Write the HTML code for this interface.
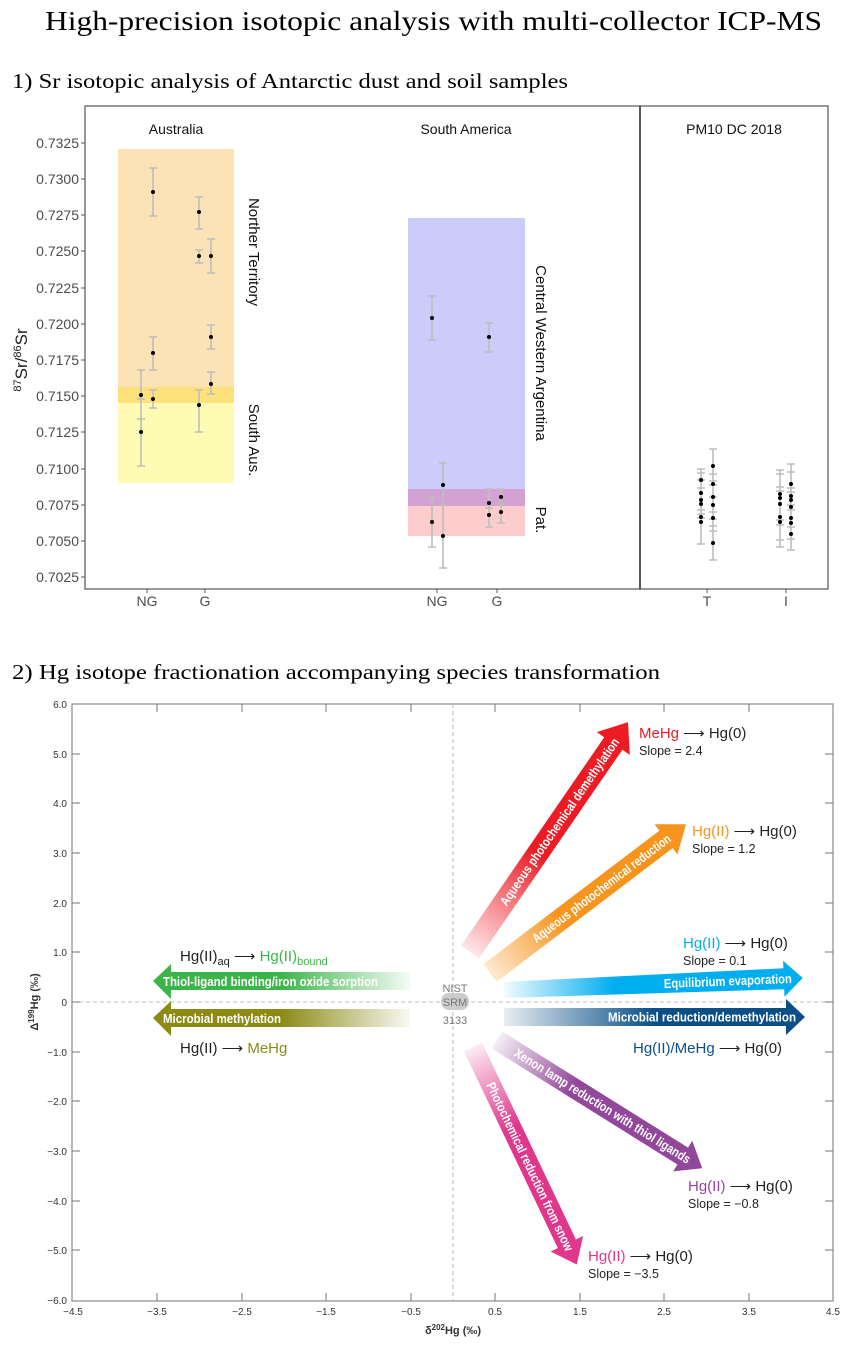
<!DOCTYPE html>
<html><head><meta charset="utf-8"><style>
html,body{margin:0;padding:0;background:#fff}
svg{display:block}
.ax{font-family:"Liberation Sans",sans-serif;font-size:14px;fill:#4d4d4d}
.eb{stroke:#bdbdbd;stroke-width:1.6;fill:none}
.ax2{font-family:"Liberation Sans",sans-serif;font-size:10px;fill:#333}
.lab{font-family:"Liberation Sans",sans-serif;font-size:15px;fill:#231f20}
.sl{font-family:"Liberation Sans",sans-serif;font-size:12.5px;fill:#231f20}
.at{font-family:"Liberation Sans Narrow","Liberation Sans",sans-serif;font-weight:bold;font-size:13px;fill:#fff}
</style></head><body>
<svg width="850" height="1345" viewBox="0 0 850 1345" xmlns="http://www.w3.org/2000/svg">
<defs>
<linearGradient id="gR" x1="0" x2="120" y1="0" y2="0" gradientUnits="userSpaceOnUse"><stop offset="0" stop-color="#ed1c24" stop-opacity="0.1"/><stop offset="1" stop-color="#ed1c24"/></linearGradient>
<linearGradient id="gO" x1="0" x2="90" y1="0" y2="0" gradientUnits="userSpaceOnUse"><stop offset="0" stop-color="#f7941d" stop-opacity="0.2"/><stop offset="1" stop-color="#f7941d"/></linearGradient>
<linearGradient id="gC" x1="0" x2="110" y1="0" y2="0" gradientUnits="userSpaceOnUse"><stop offset="0" stop-color="#00aeef" stop-opacity="0.05"/><stop offset="1" stop-color="#00aeef"/></linearGradient>
<linearGradient id="gN" x1="0" x2="150" y1="0" y2="0" gradientUnits="userSpaceOnUse"><stop offset="0" stop-color="#0b4f86" stop-opacity="0.1"/><stop offset="1" stop-color="#0b4f86"/></linearGradient>
<linearGradient id="gP" x1="0" x2="90" y1="0" y2="0" gradientUnits="userSpaceOnUse"><stop offset="0" stop-color="#92479b" stop-opacity="0.1"/><stop offset="1" stop-color="#92479b"/></linearGradient>
<linearGradient id="gK" x1="0" x2="90" y1="0" y2="0" gradientUnits="userSpaceOnUse"><stop offset="0" stop-color="#e0368c" stop-opacity="0.1"/><stop offset="1" stop-color="#e0368c"/></linearGradient>
<linearGradient id="gG" x1="410" x2="280" y1="0" y2="0" gradientUnits="userSpaceOnUse"><stop offset="0" stop-color="#3bb54a" stop-opacity="0.05"/><stop offset="1" stop-color="#3bb54a"/></linearGradient>
<linearGradient id="gV" x1="410" x2="280" y1="0" y2="0" gradientUnits="userSpaceOnUse"><stop offset="0" stop-color="#8a8a15" stop-opacity="0.05"/><stop offset="1" stop-color="#8a8a15"/></linearGradient>
</defs>
<rect width="850" height="1345" fill="#fff"/>
<text x="45" y="30" font-family="Liberation Serif,serif" font-size="27" textLength="777" lengthAdjust="spacingAndGlyphs" fill="#000">High-precision isotopic analysis with multi-collector ICP-MS</text>
<text x="12" y="88" font-family="Liberation Serif,serif" font-size="21" textLength="556" lengthAdjust="spacingAndGlyphs" fill="#000">1) Sr isotopic analysis of Antarctic dust and soil samples</text>
<text x="12" y="679" font-family="Liberation Serif,serif" font-size="21" textLength="648" lengthAdjust="spacingAndGlyphs" fill="#000">2) Hg isotope fractionation accompanying species transformation</text>

<rect x="118" y="149" width="116" height="238" fill="#fbe3b6"/>
<rect x="118" y="387" width="116" height="16" fill="#fde27c"/>
<rect x="118" y="403" width="116" height="80" fill="#fefcb4"/>
<rect x="408" y="218" width="117" height="271" fill="#ccccfb"/>
<rect x="408" y="489" width="117" height="17" fill="#d4a2d2"/>
<rect x="408" y="506" width="117" height="30" fill="#fdcccc"/>
<rect x="85" y="106" width="743" height="483" fill="none" stroke="#555" stroke-width="1.2"/>
<line x1="640" y1="106" x2="640" y2="589" stroke="#222" stroke-width="1.5"/>
<g class="ax" text-anchor="end">
<text x="79" y="148">0.7325</text><text x="79" y="184">0.7300</text><text x="79" y="220">0.7275</text><text x="79" y="256">0.7250</text><text x="79" y="293">0.7225</text><text x="79" y="329">0.7200</text><text x="79" y="365">0.7175</text><text x="79" y="401">0.7150</text><text x="79" y="437">0.7125</text><text x="79" y="474">0.7100</text><text x="79" y="510">0.7075</text><text x="79" y="546">0.7050</text><text x="79" y="582">0.7025</text>
</g>
<path d="M81 143H85M81 179H85M81 215H85M81 251H85M81 288H85M81 324H85M81 360H85M81 396H85M81 432H85M81 469H85M81 505H85M81 541H85M81 577H85M147 589V593M205 589V593M437 589V593M497 589V593M707 589V593M786 589V593" stroke="#555" stroke-width="1"/>
<g class="ax" text-anchor="middle">
<text x="147" y="606">NG</text><text x="205" y="606">G</text><text x="437" y="606">NG</text><text x="497" y="606">G</text><text x="707" y="606">T</text><text x="786" y="606">I</text>
</g>
<text transform="translate(27,360) rotate(-90)" text-anchor="middle" font-family="Liberation Sans,sans-serif" font-size="17" fill="#222"><tspan font-size="11" dy="-6">87</tspan><tspan dy="6">Sr/</tspan><tspan font-size="11" dy="-6">86</tspan><tspan dy="6">Sr</tspan></text>
<g font-family="Liberation Sans,sans-serif" font-size="14" fill="#111" text-anchor="middle">
<text x="176" y="134">Australia</text>
<text x="466" y="134">South America</text>
<text x="734" y="134">PM10 DC 2018</text>
<text transform="translate(249,252) rotate(90)" font-size="15">Norther Territory</text>
<text transform="translate(249,440) rotate(90)" font-size="15">South Aus.</text>
<text transform="translate(536,353) rotate(90)" font-size="15">Central Western Argentina</text>
<text transform="translate(536,520) rotate(90)" font-size="15">Pat.</text>
</g>
<path class="eb" d="
M137 370H145M141 370V419M137 419H145 M137 399H145M141 399V466M137 466H145
M149 168H157M153 168V216M149 216H157 M149 337H157M153 337V370M149 370H157 M149 390H157M153 390V408M149 408H157
M195 197H203M199 197V229M195 229H203 M195 250H203M199 250V263M195 263H203 M195 390H203M199 390V432M195 432H203
M207 239H215M211 239V273M207 273H215 M207 325H215M211 325V349M207 349H215 M207 372H215M211 372V394M207 394H215
M428 296H436M432 296V340M428 340H436 M428 497H436M432 497V547M428 547H436
M439 463H447M443 463V568M439 568H447M439 505H447
M485 323H493M489 323V352M485 352H493 M485 489H493M489 489V527M485 527H493M485 508H493
M497 489H505M501 489V523M497 523H505M497 504H505
M697 469H705M701 469V544M697 544H705M697 473H705M697 480H705M697 488H705M697 510H705M697 514H705M697 518H705
M709 449H717M713 449V560M709 560H717M709 474H717M709 481H717M709 485H717M709 497H717M709 512H717M709 519H717M709 526H717M709 531H717
M776 470H784M780 470V547M776 547H784M776 474H784M776 487H784M776 491H784M776 520H784M776 525H784M776 540H784
M787 464H795M791 464V550M787 550H795M787 472H795M787 488H795M787 492H795M787 505H795M787 510H795M787 527H795M787 539H795"/>
<g fill="#000">
<circle cx="141" cy="395" r="2"/><circle cx="141" cy="432" r="2"/>
<circle cx="153" cy="192" r="2"/><circle cx="153" cy="353" r="2"/><circle cx="153" cy="399" r="2"/>
<circle cx="199" cy="212" r="2"/><circle cx="199" cy="256" r="2"/><circle cx="199" cy="405" r="2"/>
<circle cx="211" cy="256" r="2"/><circle cx="211" cy="337" r="2"/><circle cx="211" cy="384" r="2"/>
<circle cx="432" cy="318" r="2"/><circle cx="432" cy="522" r="2"/>
<circle cx="443" cy="485" r="2"/><circle cx="443" cy="536" r="2"/>
<circle cx="489" cy="337" r="2"/><circle cx="489" cy="503" r="2"/><circle cx="489" cy="515" r="2"/>
<circle cx="501" cy="497" r="2"/><circle cx="501" cy="512" r="2"/>
<circle cx="701" cy="480" r="2"/><circle cx="701" cy="493" r="2"/><circle cx="701" cy="500" r="2"/><circle cx="701" cy="504" r="2"/><circle cx="701" cy="517" r="2"/><circle cx="701" cy="522" r="2"/>
<circle cx="713" cy="466" r="2"/><circle cx="713" cy="484" r="2"/><circle cx="713" cy="497" r="2"/><circle cx="713" cy="505" r="2"/><circle cx="713" cy="518" r="2"/><circle cx="713" cy="543" r="2"/>
<circle cx="780" cy="494" r="2"/><circle cx="780" cy="498" r="2"/><circle cx="780" cy="504" r="2"/><circle cx="780" cy="517" r="2"/><circle cx="780" cy="522" r="2"/>
<circle cx="791" cy="484" r="2"/><circle cx="791" cy="496" r="2"/><circle cx="791" cy="500" r="2"/><circle cx="791" cy="507" r="2"/><circle cx="791" cy="518" r="2"/><circle cx="791" cy="523" r="2"/><circle cx="791" cy="534" r="2"/>
</g>

<rect x="72" y="704" width="761" height="597" fill="none" stroke="#8a8a8a" stroke-width="1.2"/>
<line x1="72" y1="1002" x2="833" y2="1002" stroke="#bbb" stroke-dasharray="4,3"/>
<line x1="453" y1="704" x2="453" y2="1301" stroke="#bbb" stroke-dasharray="4,3"/>
<path d="M72 754H80M72 803H80M72 853H80M72 903H80M72 952H80M72 1002H80M72 1052H80M72 1101H80M72 1151H80M72 1201H80M72 1250H80
M825 754H833M825 803H833M825 853H833M825 903H833M825 952H833M825 1002H833M825 1052H833M825 1101H833M825 1151H833M825 1201H833M825 1250H833
M157 1301V1293M242 1301V1293M326 1301V1293M411 1301V1293M495 1301V1293M580 1301V1293M664 1301V1293M749 1301V1293
M157 704V712M242 704V712M326 704V712M411 704V712M495 704V712M580 704V712M664 704V712M749 704V712" stroke="#777" stroke-width="1"/>
<g class="ax2" text-anchor="end">
<text x="67" y="708">6.0</text><text x="67" y="758">5.0</text><text x="67" y="807">4.0</text><text x="67" y="857">3.0</text><text x="67" y="907">2.0</text><text x="67" y="956">1.0</text><text x="67" y="1006">0</text><text x="67" y="1056">−1.0</text><text x="67" y="1105">−2.0</text><text x="67" y="1155">−3.0</text><text x="67" y="1205">−4.0</text><text x="67" y="1254">−5.0</text><text x="67" y="1304">−6.0</text>
</g>
<g class="ax2" text-anchor="middle">
<text x="73" y="1315">−4.5</text><text x="157" y="1315">−3.5</text><text x="242" y="1315">−2.5</text><text x="326" y="1315">−1.5</text><text x="411" y="1315">−0.5</text><text x="495" y="1315">0.5</text><text x="580" y="1315">1.5</text><text x="664" y="1315">2.5</text><text x="749" y="1315">3.5</text><text x="833" y="1315">4.5</text>
</g>
<text x="453" y="1334" text-anchor="middle" font-family="Liberation Sans,sans-serif" font-size="11" font-weight="bold" fill="#333">δ<tspan font-size="8" dy="-4">202</tspan><tspan dy="4">Hg (‰)</tspan></text>
<text transform="translate(38,1002) rotate(-90)" text-anchor="middle" font-family="Liberation Sans,sans-serif" font-size="11" font-weight="bold" fill="#333">Δ<tspan font-size="8" dy="-4">199</tspan><tspan dy="4">Hg (‰)</tspan></text>

<rect x="441" y="993" width="28" height="17" rx="8" fill="#ccc"/>
<g font-family="Liberation Sans,sans-serif" font-size="11" fill="#777" text-anchor="middle">
<text x="455" y="992">NIST</text><text x="455" y="1006">SRM</text><text x="455" y="1024">3133</text>
</g>

<g transform="translate(470,952) rotate(-55.5)">
<polygon points="0,-11 253,-11 253,-20 279,0 253,20 253,11 0,11" fill="url(#gR)"/>
<text class="at" x="58" y="4.5" textLength="200" lengthAdjust="spacingAndGlyphs">Aqueous photochemical demethylation</text>
</g>
<g transform="translate(490,973) rotate(-37.2)">
<polygon points="0,-11 221,-11 221,-19 246,0 221,19 221,11 0,11" fill="url(#gO)"/>
<text class="at" x="55" y="4.5" textLength="170" lengthAdjust="spacingAndGlyphs">Aqueous photochemical reduction</text>
</g>
<g transform="translate(504,990) rotate(-2.3)">
<polygon points="0,-8 280,-10.5 280,-18 299,0 280,18 280,10.5 0,8" fill="url(#gC)"/>
<text class="at" x="160" y="4.5" textLength="128" lengthAdjust="spacingAndGlyphs">Equilibrium evaporation</text>
</g>
<g transform="translate(504,1017)">
<polygon points="0,-9 282,-9 282,-18 301,0 282,18 282,9 0,9" fill="url(#gN)"/>
<text class="at" x="104" y="4.5" textLength="188" lengthAdjust="spacingAndGlyphs">Microbial reduction/demethylation</text>
</g>
<g transform="translate(497,1040) rotate(32)">
<polygon points="0,-10 219,-10 219,-18 242,0 219,18 219,10 0,10" fill="url(#gP)"/>
<text class="at" x="22" y="4.5" textLength="205" lengthAdjust="spacingAndGlyphs">Xenon lamp reduction with thiol ligands</text>
</g>
<g transform="translate(473,1047) rotate(64.5)">
<polygon points="0,-10 218,-10 218,-18 241,0 218,18 218,10 0,10" fill="url(#gK)"/>
<text class="at" x="40" y="4.5" textLength="185" lengthAdjust="spacingAndGlyphs">Photochemical reduction from snow</text>
</g>
<polygon points="410,972 171,972 171,964 153,981 171,999 171,990 410,990" fill="url(#gG)"/>
<text class="at" x="163" y="986" textLength="215" lengthAdjust="spacingAndGlyphs">Thiol-ligand binding/iron oxide sorption</text>
<polygon points="410,1009 171,1009 171,1001 153,1018 171,1036 171,1027 410,1027" fill="url(#gV)"/>
<text class="at" x="163" y="1023" textLength="118" lengthAdjust="spacingAndGlyphs">Microbial methylation</text>

<text class="lab" x="180" y="961"><tspan>Hg(II)</tspan><tspan font-size="11" dy="4">aq</tspan><tspan dy="-4"> ⟶ </tspan><tspan fill="#3bb54a">Hg(II)</tspan><tspan fill="#3bb54a" font-size="11" dy="4">bound</tspan></text>
<text class="lab" x="180" y="1053">Hg(II) ⟶ <tspan fill="#8a8a15">MeHg</tspan></text>
<text class="lab" x="639" y="738"><tspan fill="#ed1c24">MeHg</tspan> ⟶ Hg(0)</text>
<text class="sl" x="639" y="755">Slope = 2.4</text>
<text class="lab" x="692" y="836"><tspan fill="#f7941d">Hg(II)</tspan> ⟶ Hg(0)</text>
<text class="sl" x="692" y="853">Slope = 1.2</text>
<text class="lab" x="683" y="948"><tspan fill="#00aeef">Hg(II)</tspan> ⟶ Hg(0)</text>
<text class="sl" x="683" y="965">Slope = 0.1</text>
<text class="lab" x="633" y="1053"><tspan fill="#0b4f86">Hg(II)/MeHg</tspan> ⟶ Hg(0)</text>
<text class="lab" x="688" y="1191"><tspan fill="#92479b">Hg(II)</tspan> ⟶ Hg(0)</text>
<text class="sl" x="688" y="1208">Slope = −0.8</text>
<text class="lab" x="588" y="1261"><tspan fill="#e0368c">Hg(II)</tspan> ⟶ Hg(0)</text>
<text class="sl" x="588" y="1278">Slope = −3.5</text>
</svg>
</body></html>
